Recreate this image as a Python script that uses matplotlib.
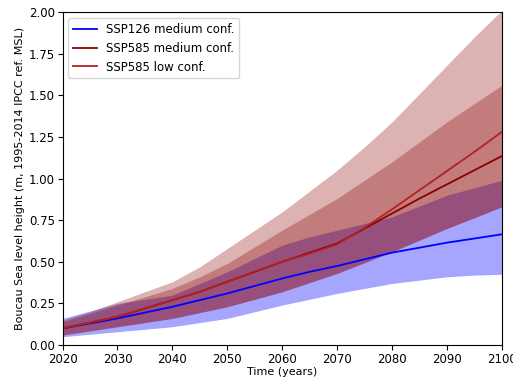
import numpy as np
import matplotlib
matplotlib.use('Agg')
import matplotlib.pyplot as plt

years = np.arange(2020, 2101, 5)

# SSP126 medium confidence (median, 17th, 83rd)
ssp126_med = [0.10, 0.13, 0.16, 0.195, 0.23, 0.27, 0.31, 0.355, 0.40, 0.44, 0.475,
              0.515, 0.555, 0.585, 0.615, 0.64, 0.665]
ssp126_low = [0.05, 0.065, 0.08, 0.095, 0.11, 0.135, 0.16, 0.20, 0.24, 0.275, 0.31,
              0.34, 0.37, 0.39, 0.41, 0.42, 0.425]
ssp126_high = [0.16, 0.205, 0.25, 0.275, 0.30, 0.37, 0.44, 0.52, 0.60, 0.65, 0.69,
               0.73, 0.77, 0.835, 0.90, 0.945, 0.99]

# SSP585 medium confidence
ssp585_med = [0.10, 0.135, 0.17, 0.22, 0.27, 0.32, 0.38, 0.44, 0.50, 0.555, 0.61,
              0.70, 0.79, 0.88, 0.965, 1.05, 1.135]
ssp585_med_low = [0.06, 0.085, 0.11, 0.135, 0.16, 0.195, 0.23, 0.275, 0.32, 0.375, 0.43,
                  0.495, 0.56, 0.63, 0.70, 0.765, 0.83]
ssp585_med_high = [0.14, 0.19, 0.24, 0.29, 0.34, 0.41, 0.49, 0.59, 0.69, 0.785, 0.88,
                   0.99, 1.10, 1.22, 1.34, 1.45, 1.56]

# SSP585 low confidence
ssp585_lc = [0.10, 0.135, 0.17, 0.22, 0.27, 0.32, 0.38, 0.44, 0.50, 0.55, 0.605,
             0.705, 0.815, 0.93, 1.045, 1.16, 1.28]
ssp585_lc_low = [0.06, 0.085, 0.11, 0.135, 0.16, 0.195, 0.23, 0.275, 0.32, 0.375, 0.43,
                 0.495, 0.56, 0.63, 0.70, 0.765, 0.83]
ssp585_lc_high = [0.15, 0.20, 0.26, 0.32, 0.38, 0.47, 0.58, 0.69, 0.80, 0.925, 1.05,
                  1.19, 1.34, 1.51, 1.68, 1.85, 2.01]

fig = plt.figure(figsize=(5.13, 3.80), dpi=100)
ax = fig.add_axes([0.122, 0.092, 0.856, 0.876])

# blue band first, red bands on top of it
ax.fill_between(years, ssp126_low, ssp126_high, color='blue', alpha=0.35, lw=0)
ax.fill_between(years, ssp585_lc_low, ssp585_lc_high, color='darkred', alpha=0.3, lw=0)
ax.fill_between(years, ssp585_med_low, ssp585_med_high, color='darkred', alpha=0.3, lw=0)

ax.plot(years, ssp126_med, color='blue', lw=1.3, label='SSP126 medium conf.')
ax.plot(years, ssp585_med, color='darkred', lw=1.3, label='SSP585 medium conf.')
ax.plot(years, ssp585_lc, color='firebrick', lw=1.3, label='SSP585 low conf.')

ax.set_xlim(2020, 2100)
ax.set_ylim(0, 2)
ax.set_xlabel('Time (years)', fontsize=8, labelpad=1)
ax.set_ylabel('Boucau Sea level height (m, 1995-2014 IPCC ref. MSL)', fontsize=8, labelpad=3)
ax.tick_params(labelsize=8.5, pad=2)
ax.legend(loc='upper left', fontsize=8.5)

fig.savefig('out.png', dpi=100)
